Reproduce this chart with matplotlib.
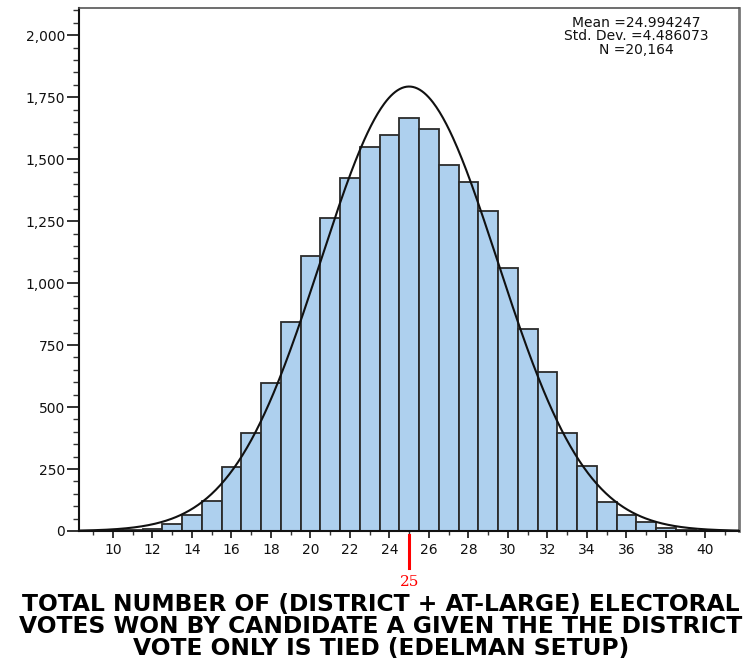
import numpy as np
import matplotlib
matplotlib.use("Agg")
import matplotlib.pyplot as plt
from matplotlib.ticker import MultipleLocator, FuncFormatter
import matplotlib.transforms as mtransforms

# Electoral votes won by candidate A (bin centres) and simulation counts
votes = [10, 11, 12, 13, 14, 15, 16, 17, 18, 19, 20, 21, 22, 23, 24, 25,
         26, 27, 28, 29, 30, 31, 32, 33, 34, 35, 36, 37, 38, 39, 40]
counts = [3, 5, 9, 30, 66, 121, 257, 394, 598, 843, 1109, 1263, 1425, 1551,
          1598, 1667, 1623, 1476, 1408, 1292, 1061, 815, 642, 394, 262, 116,
          63, 36, 12, 4, 1]

mean = 24.994247
std_dev = 4.486073
n_total = 20164
tie_value = 25

x_ticks = [10, 12, 14, 16, 18, 20, 22, 24, 26, 28, 30, 32, 34, 36, 38, 40]
y_ticks = [0, 250, 500, 750, 1000, 1250, 1500, 1750, 2000]

title_lines = [
    "TOTAL NUMBER OF (DISTRICT + AT-LARGE) ELECTORAL",
    "VOTES WON BY CANDIDATE A GIVEN THE THE DISTRICT",
    "VOTE ONLY IS TIED (EDELMAN SETUP)",
]

plt.rcParams["font.family"] = ["DejaVu Sans"]

fig = plt.figure(figsize=(7.56, 6.6), dpi=100)
ax = fig.add_axes([79 / 756, 1 - 531 / 660, (739 - 79) / 756, (531 - 8) / 660])

ax.bar(votes, counts, width=1.0, color="#aed0ee", edgecolor="#2b2b2b",
       linewidth=1.3, zorder=2)

# fitted normal curve scaled to counts per unit bin
xs = np.linspace(8.2, 41.8, 600)
ys = n_total * 1.0 / (std_dev * np.sqrt(2 * np.pi)) * np.exp(-0.5 * ((xs - mean) / std_dev) ** 2)
ax.plot(xs, ys, color="#111111", linewidth=1.5, zorder=3)

ax.set_xlim(8.28, 41.7)
ax.set_ylim(0, 2110)

ax.set_xticks(x_ticks)
ax.xaxis.set_minor_locator(MultipleLocator(1))
ax.set_yticks(y_ticks)
ax.yaxis.set_minor_locator(MultipleLocator(50))
ax.yaxis.set_major_formatter(FuncFormatter(lambda v, p: f"{int(v):,}"))

ax.tick_params(axis="y", which="major", length=9, width=1.2, pad=1,
               labelsize=10, colors="#111111")
ax.tick_params(axis="y", which="minor", length=4, width=1.0, colors="#333333")
ax.tick_params(axis="x", which="major", length=5, width=1.2, pad=4,
               labelsize=10, colors="#111111")
ax.tick_params(axis="x", which="minor", length=3, width=1.0, colors="#333333")

for side in ("left", "bottom"):
    ax.spines[side].set_color("#111111")
    ax.spines[side].set_linewidth(1.5)
ax.spines["top"].set_color("#555555")
ax.spines["top"].set_linewidth(1.2)
ax.spines["right"].set_color("#777777")
ax.spines["right"].set_linewidth(2.0)

# summary statistics
ax.text(0.845, 0.984,
        f"Mean ={mean:.6f}\nStd. Dev. ={std_dev:.6f}\nN ={n_total:,}",
        transform=ax.transAxes, ha="center", va="top", fontsize=10,
        linespacing=0.92, color="#111111")

# red marker at the tie value below the axis
trans = mtransforms.blended_transform_factory(ax.transData, ax.transAxes)
ax.plot([tie_value, tie_value], [-0.008, -0.071], color="#ff0000",
        linewidth=2.2, transform=trans, clip_on=False, zorder=5)
ax.text(tie_value, -0.097, str(tie_value), transform=trans, ha="center",
        va="center", color="#ff0000", fontsize=11, family="DejaVu Serif")

baselines = [611, 633, 655]
for line, yb in zip(title_lines, baselines):
    fig.text(381 / 756, 1 - yb / 660, line, ha="center", va="baseline",
             fontsize=16.8, fontweight="bold", color="#000000")

fig.savefig("out.png", dpi=100)
